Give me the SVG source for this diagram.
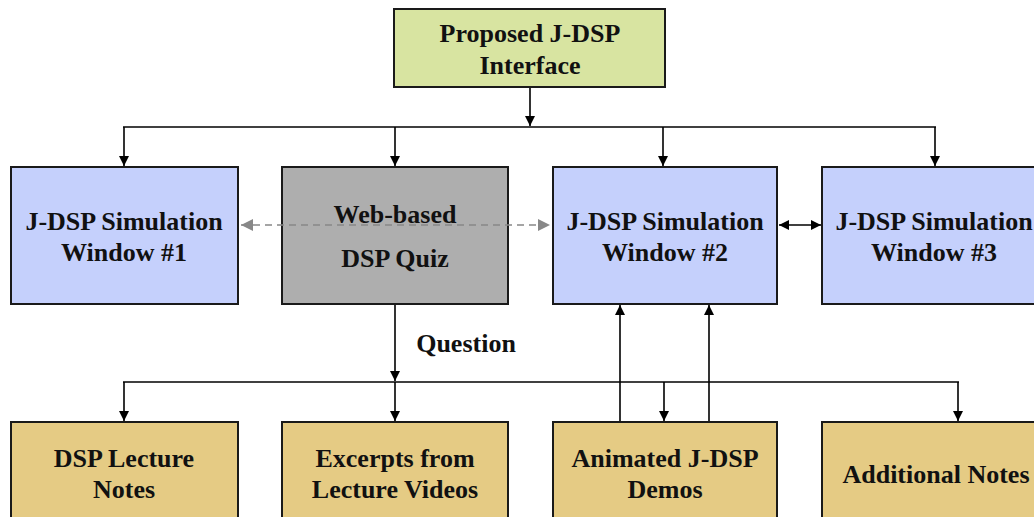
<svg xmlns="http://www.w3.org/2000/svg" width="1034" height="517" viewBox="0 0 1034 517">
<style>
.box{stroke:#1a1a1a;stroke-width:2}
.olive{fill:#d8e4a1}
.blue{fill:#c5d0fc}
.grey{fill:#aeaeae}
.tan{fill:#e5cb84}
.t{font-family:'Liberation Serif','DejaVu Serif',serif;font-weight:bold;font-size:26px;fill:#111;text-anchor:middle}
.ln{stroke:#000;stroke-width:1.6;fill:none}
.dash{stroke:#888;stroke-width:1.6;stroke-dasharray:7 5;fill:none}
</style>
<defs>
<marker id="ah" viewBox="0 0 10 10" refX="10" refY="5" markerWidth="10" markerHeight="10" markerUnits="userSpaceOnUse" orient="auto-start-reverse"><path d="M0,0 L10,5 L0,10 z" fill="#000"/></marker>
<marker id="ahg" viewBox="0 0 10 10" refX="10" refY="5" markerWidth="12" markerHeight="12" markerUnits="userSpaceOnUse" orient="auto-start-reverse"><path d="M0,0 L10,5 L0,10 z" fill="#888"/></marker>
</defs>
<g id="connectors">
<line class="ln" x1="530" y1="87" x2="530" y2="126" marker-end="url(#ah)"/>
<line class="ln" x1="123" y1="127" x2="936" y2="127"/>
<line class="ln" x1="124" y1="127" x2="124" y2="166" marker-end="url(#ah)"/>
<line class="ln" x1="395" y1="127" x2="395" y2="166" marker-end="url(#ah)"/>
<line class="ln" x1="663" y1="127" x2="663" y2="166" marker-end="url(#ah)"/>
<line class="ln" x1="935" y1="127" x2="935" y2="166" marker-end="url(#ah)"/>
<line class="ln" x1="779" y1="225" x2="821" y2="225" marker-start="url(#ah)" marker-end="url(#ah)"/>
<line class="ln" x1="395" y1="305" x2="395" y2="381" marker-end="url(#ah)"/>
<line class="ln" x1="123" y1="382" x2="959" y2="382"/>
<line class="ln" x1="124" y1="382" x2="124" y2="421" marker-end="url(#ah)"/>
<line class="ln" x1="395" y1="382" x2="395" y2="421" marker-end="url(#ah)"/>
<line class="ln" x1="664" y1="382" x2="664" y2="421" marker-end="url(#ah)"/>
<line class="ln" x1="958" y1="382" x2="958" y2="421" marker-end="url(#ah)"/>
<line class="ln" x1="620" y1="422" x2="620" y2="305" marker-end="url(#ah)"/>
<line class="ln" x1="709" y1="422" x2="709" y2="305" marker-end="url(#ah)"/>
<text class="t" x="466" y="352">Question</text>
</g>
<g id="proposed"><rect class="box olive" x="394" y="9" width="271" height="78"/><text class="t" x="530" y="42">Proposed J-DSP</text><text class="t" x="530" y="74">Interface</text></g>
<g id="sim1"><rect class="box blue" x="11" y="167" width="227" height="137"/><text class="t" x="124" y="230">J-DSP Simulation</text><text class="t" x="124" y="261">Window #1</text></g>
<g id="quiz"><rect class="box grey" x="282" y="167" width="226" height="137"/><text class="t" x="395" y="223">Web-based</text><text class="t" x="395" y="267">DSP Quiz</text></g>
<g id="sim2"><rect class="box blue" x="553" y="167" width="224" height="137"/><text class="t" x="665" y="230">J-DSP Simulation</text><text class="t" x="665" y="261">Window #2</text></g>
<g id="sim3"><rect class="box blue" x="822" y="167" width="225" height="137"/><text class="t" x="934" y="230">J-DSP Simulation</text><text class="t" x="934" y="261">Window #3</text></g>
<g id="dashed"><line class="dash" x1="241" y1="225" x2="550" y2="225" marker-start="url(#ahg)" marker-end="url(#ahg)"/></g>
<g id="lecture"><rect class="box tan" x="11" y="422" width="227" height="110"/><text class="t" x="124" y="467">DSP Lecture</text><text class="t" x="124" y="498">Notes</text></g>
<g id="excerpts"><rect class="box tan" x="282" y="422" width="226" height="110"/><text class="t" x="395" y="467">Excerpts from</text><text class="t" x="395" y="498">Lecture Videos</text></g>
<g id="demos"><rect class="box tan" x="553" y="422" width="224" height="110"/><text class="t" x="665" y="467">Animated J-DSP</text><text class="t" x="665" y="498">Demos</text></g>
<g id="notes"><rect class="box tan" x="822" y="422" width="225" height="110"/><text class="t" x="936" y="483">Additional Notes</text></g>
</svg>
